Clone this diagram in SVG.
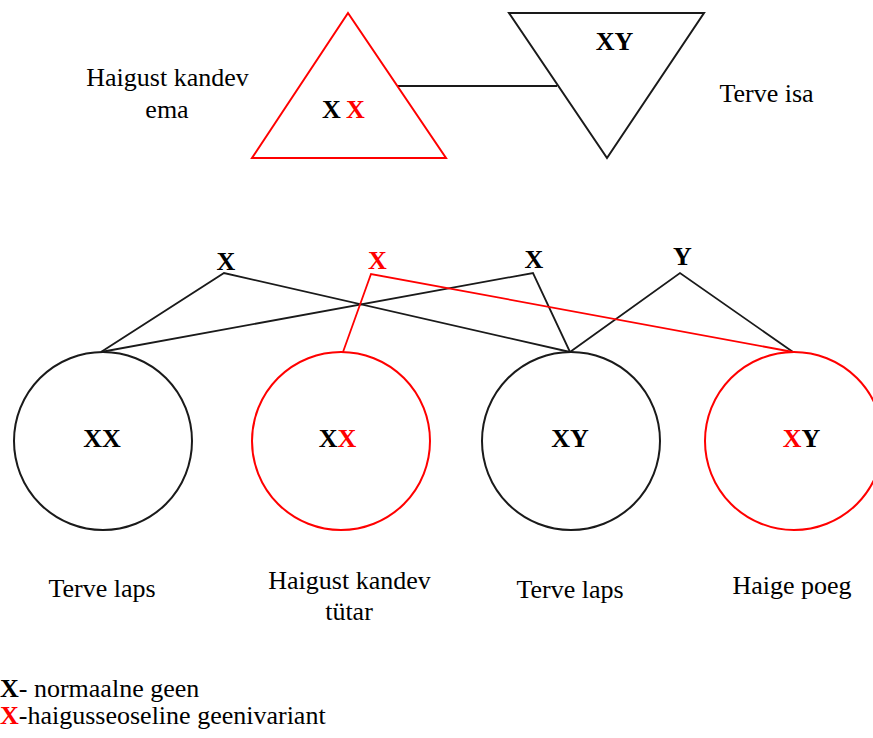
<svg xmlns="http://www.w3.org/2000/svg" width="873" height="738" viewBox="0 0 873 738" font-family="'Liberation Serif', 'DejaVu Serif', serif">
<style>
text{font-family:'Liberation Serif','DejaVu Serif',serif;font-size:26px;fill:#000}
.b{font-weight:bold}
.r{fill:#ff0000}
.mid{text-anchor:middle}
.shape{fill:none;stroke-width:2}
.blk{stroke:#1a1a1a}
.red{stroke:#ff0000}
.ln{fill:none;stroke-width:1.8}
</style>
<rect width="873" height="738" fill="#fff"/>
<g id="connectors">
<line class="ln blk" x1="398" y1="86" x2="557" y2="86"/>
<polyline class="ln blk" points="101,352 224,273 570,352"/>
<polyline class="ln blk" points="101,352 533,273 570,352"/>
<polyline class="ln blk" points="570,352 680,273 793,352"/>
<polyline class="ln red" points="343,352 371,274 793,352"/>
</g>
<g id="mother">
<polygon class="shape red" points="348,13 446,158 252,158"/>
<text class="b" x="322" y="118">X</text>
<text class="b r" x="346" y="118">X</text>
</g>
<g id="father">
<polygon class="shape blk" points="509,13 704,13 607,158"/>
<text class="b mid" x="614.5" y="50">XY</text>
</g>
<g id="mother-label">
<text class="mid" x="167.5" y="86">Haigust kandev</text>
<text class="mid" x="167" y="118">ema</text>
</g>
<g id="father-label">
<text class="mid" x="766.5" y="102">Terve isa</text>
</g>
<g id="gametes">
<text class="b mid" x="226" y="270">X</text>
<text class="b mid r" x="377.5" y="269">X</text>
<text class="b mid" x="534" y="268">X</text>
<text class="b mid" x="682.5" y="265">Y</text>
</g>
<g id="child1">
<circle class="shape blk" cx="103" cy="441" r="89"/>
<text class="b mid" x="102" y="447">XX</text>
<text class="mid" x="102" y="597">Terve laps</text>
</g>
<g id="child2">
<circle class="shape red" cx="341" cy="441" r="89"/>
<text class="b mid" x="337.5" y="447">X<tspan class="r">X</tspan></text>
<text class="mid" x="349.5" y="589">Haigust kandev</text>
<text class="mid" x="349" y="620">tütar</text>
</g>
<g id="child3">
<circle class="shape blk" cx="571" cy="441" r="89"/>
<text class="b mid" x="570" y="447">XY</text>
<text class="mid" x="570" y="598">Terve laps</text>
</g>
<g id="child4">
<circle class="shape red" cx="794" cy="441" r="89"/>
<text class="b mid" x="801.5" y="447"><tspan class="r">X</tspan>Y</text>
<text class="mid" x="792" y="594">Haige poeg</text>
</g>
<g id="legend">
<text x="0" y="697"><tspan class="b">X</tspan>- normaalne geen</text>
<text x="0" y="724"><tspan class="b r">X</tspan>-haigusseoseline geenivariant</text>
</g>
</svg>
